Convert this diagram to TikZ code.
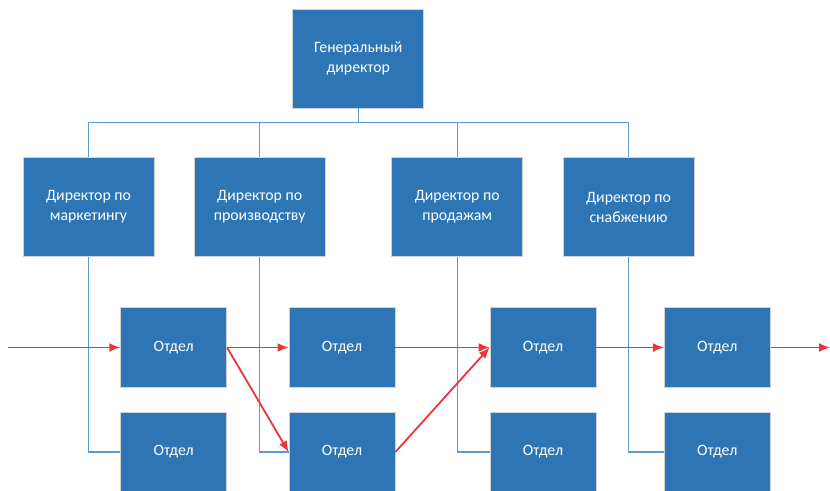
\documentclass[tikz,border=0pt]{standalone}
\usepackage{fontspec}
\setmainfont{Carlito}
\usetikzlibrary{arrows.meta}

\definecolor{boxblue}{RGB}{46,117,182}
\definecolor{lineblue}{RGB}{91,155,213}
\definecolor{flowred}{RGB}{236,52,58}

\begin{document}
\begin{tikzpicture}[x=1pt, y=-1pt,
    box/.style={rectangle, draw=gray!35, line width=0.8pt, fill=boxblue, text=white,
                align=center, inner sep=0pt, font=\fontsize{15.8}{20}\selectfont},
    chief/.style={box, minimum width=131pt, minimum height=99pt},
    dept/.style={box, minimum width=106pt, minimum height=80pt},
    tree/.style={draw=lineblue, line width=1.2pt},
    flow/.style={draw=flowred, line width=1.8pt, -{Latex[length=11pt,width=9pt]}}]
                \clip (0,0) rectangle (830,490);

                % Nodes
                \node[chief] (gd) at (358.3, 58.5) {Генеральный\\директор};
                \node[chief] (d1) at (88.5, 207) {Директор по\\маркетингу};
                \node[chief] (d2) at (259.7, 207) {Директор по\\производству};
                \node[chief] (d3) at (457.2, 207) {Директор по\\продажам};
                \node[chief] (d4) at (628.5, 207) {Директор по\\снабжению};

                \node[dept] (o1a) at (173.7, 347.5) {Отдел};
                \node[dept] (o2a) at (342, 347.5) {Отдел};
                \node[dept] (o3a) at (543, 347.5) {Отдел};
                \node[dept] (o4a) at (717.3, 347.5) {Отдел};
                \node[dept] (o1b) at (173.7, 452) {Отдел};
                \node[dept] (o2b) at (342, 452) {Отдел};
                \node[dept] (o3b) at (543, 452) {Отдел};
                \node[dept] (o4b) at (717.3, 452) {Отдел};

                \coordinate (bus) at (358.3, 122.7);
                \coordinate (in) at (8, 347.5);
                \coordinate (out) at (830, 347.5);

                % Edges for hierarchy
                \draw[tree] (gd.south) -- (bus);
                \draw[tree] (bus) -| (d1.north);
                \draw[tree] (bus) -| (d2.north);
                \draw[tree] (bus) -| (d3.north);
                \draw[tree] (bus) -| (d4.north);
                \draw[tree] (d1.south) |- (o1b.west);
                \draw[tree] (d2.south) |- (o2b.west);
                \draw[tree] (d3.south) |- (o3b.west);
                \draw[tree] (d4.south) |- (o4b.west);

                % Edges for process flow
                \draw[flow] (in) -- (o1a.west);
                \draw[flow] (o1a.east) -- (o2a.west);
                \draw[flow] (o1a.east) -- (o2b.west);
                \draw[flow] (o2b.east) -- (o3a.west);
                \draw[flow] (o2a.east) -- (o3a.west);
                \draw[flow] (o3a.east) -- (o4a.west);
                \draw[flow] (o4a.east) -- (out);
            \end{tikzpicture}
\end{document}
